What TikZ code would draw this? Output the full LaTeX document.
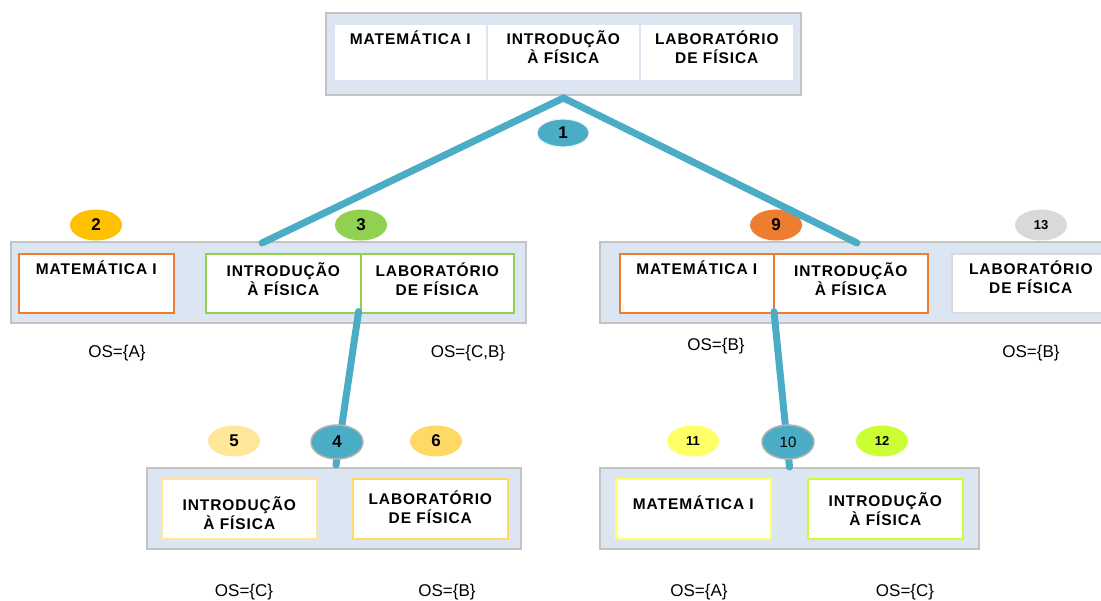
\documentclass[tikz,border=0pt]{standalone}
\usepackage{fontspec}
\setmainfont{Liberation Sans}
\newfontfamily\spacedfont[LetterSpace=6]{Liberation Sans}
\usetikzlibrary{shapes.geometric}
\definecolor{panelfill}{HTML}{DCE6F2}
\definecolor{panelline}{HTML}{C3C3C3}
\definecolor{conn}{HTML}{4BACC6}
\definecolor{corange}{HTML}{ED7D31}
\definecolor{cgreen}{HTML}{92D050}
\definecolor{cgold}{HTML}{FFC000}
\definecolor{cpale}{HTML}{FFE699}
\definecolor{cyel}{HTML}{FFD966}
\definecolor{clemon}{HTML}{FFFF66}
\definecolor{clime}{HTML}{CCFF33}
\definecolor{cgray}{HTML}{D9D9D9}
\tikzset{
  panel/.style={draw=panelline, line width=2pt, fill=panelfill, anchor=north west,
                inner sep=0pt, minimum height=81pt},
  cell/.style={fill=white, line width=1.6pt, anchor=north west, inner sep=0pt,
               align=center, font=\spacedfont\bfseries\fontsize{15.5}{19}\selectfont},
  badge/.style={ellipse, inner sep=0pt, minimum width=52pt, minimum height=31pt,
                font=\bfseries\fontsize{17}{20}\selectfont},
  smallbadge/.style={badge, font=\bfseries\fontsize{13}{15}\selectfont},
  hub/.style={badge, fill=conn, draw=gray!60, line width=1.5pt, minimum height=34pt},
  oslabel/.style={anchor=base, font=\fontsize{17}{20}\selectfont},
  link/.style={draw=conn, line width=7pt, line cap=round, line join=miter}
}
\begin{document}
\begin{tikzpicture}[x=1pt,y=-1pt]
\clip (0,0) rectangle (1101,601);
\fill[white] (0,0) rectangle (1101,601);

% ---------- top panel ----------
\node[panel, minimum width=475pt, minimum height=82pt] (topP) at (325,12) {};
\node[cell, draw=panelfill, minimum width=153pt, text height=20.5pt, text depth=36.5pt] (topMat) at (333,23) {MATEMÁTICA I};
\node[cell, draw=panelfill, minimum width=153pt, text height=39.5pt, text depth=17.5pt] (topInt) at (486,23) {INTRODUÇÃO\\À FÍSICA};
\node[cell, draw=panelfill, minimum width=154pt, text height=39.5pt, text depth=17.5pt] (topLab) at (639,23) {LABORATÓRIO\\DE FÍSICA};

% ---------- middle left panel ----------
\node[panel, minimum width=515pt] (mlP) at (10,241) {};
\node[cell, draw=corange, minimum width=155pt, text height=20.5pt, text depth=38.5pt] (mlMat) at (18,253) {MATEMÁTICA I};
\node[cell, draw=cgreen, minimum width=155pt, text height=41.5pt, text depth=17.5pt] (mlInt) at (205,253) {INTRODUÇÃO\\À FÍSICA};
\node[cell, draw=cgreen, minimum width=153pt, text height=41.5pt, text depth=17.5pt] (mlLab) at (360,253) {LABORATÓRIO\\DE FÍSICA};

% ---------- middle right panel ----------
\node[panel, minimum width=520pt] (mrP) at (599,241) {};
\node[cell, draw=corange, minimum width=154pt, text height=20.5pt, text depth=38.5pt] (mrMat) at (619,253) {MATEMÁTICA I};
\node[cell, draw=corange, minimum width=154pt, text height=41.5pt, text depth=17.5pt] (mrInt) at (773,253) {INTRODUÇÃO\\À FÍSICA};
\node[cell, draw=cgray, minimum width=158pt, text height=39.5pt, text depth=19.5pt] (mrLab) at (951,253) {LABORATÓRIO\\DE FÍSICA};

% ---------- bottom left panel ----------
\node[panel, minimum width=374pt] (blP) at (146,467) {};
\node[cell, draw=cpale, minimum width=155pt, text height=50.5pt, text depth=9.5pt] (blInt) at (161,478) {INTRODUÇÃO\\À FÍSICA};
\node[cell, draw=cyel, minimum width=155pt, text height=44.5pt, text depth=15.5pt] (blLab) at (352,478) {LABORATÓRIO\\DE FÍSICA};

% ---------- bottom right panel ----------
\node[panel, minimum width=379pt] (brP) at (599,467) {};
\node[cell, draw=clemon, minimum width=155pt, text height=30.5pt, text depth=29.5pt] (brMat) at (615,478) {MATEMÁTICA I};
\node[cell, draw=clime, minimum width=155pt, text height=46.5pt, text depth=13.5pt] (brInt) at (807,478) {INTRODUÇÃO\\À FÍSICA};

% ---------- badges under the links ----------
\node[badge, fill=cgold] (b2) at (96,225) {2};
\node[badge, fill=cgreen] (b3) at (361,225) {3};
\node[badge, fill=corange] (b9) at (776,225) {9};
\node[smallbadge, fill=cgray] (b13) at (1041,225) {13};

% ---------- links ----------
\coordinate (apex) at ([yshift=-2pt]topP.south);
\coordinate (endL) at (262,243);
\coordinate (endR) at (857,243);
\draw[link] (endL) -- (apex) -- (endR);
\coordinate (s4) at ([xshift=-3pt,yshift=2pt]mlInt.south east);
\coordinate (e4) at ([xshift=2pt,yshift=2pt]blP.north);
\draw[link] (s4) -- (e4);
\coordinate (s10) at ([xshift=1pt,yshift=2pt]mrInt.south west);
\coordinate (e10) at ([yshift=0pt]brP.north);
\draw[link] (s10) -- (e10);

% ---------- badges over the links ----------
\node[badge, fill=conn, draw=white!85!conn, line width=1.2pt, minimum height=28pt] (b1) at (563,133) {1};
\node[hub] (b4) at (337,442) {4};
\node[hub, font=\fontsize{15}{17}\selectfont] (b10) at (788,442) {10};
\node[badge, fill=cpale] (b5) at (234,441) {5};
\node[badge, fill=cyel] (b6) at (436,441) {6};
\node[smallbadge, fill=clemon] (b11) at (693,441) {11};
\node[smallbadge, fill=clime] (b12) at (882,441) {12};

% ---------- OS labels ----------
\node[oslabel] (os1) at (117,358) {OS=\{A\}};
\node[oslabel] (os2) at (468,358) {OS=\{C,B\}};
\node[oslabel] (os3) at (716,351) {OS=\{B\}};
\node[oslabel] (os4) at (1031,358) {OS=\{B\}};
\node[oslabel] (os5) at (244,596) {OS=\{C\}};
\node[oslabel] (os6) at (447,596) {OS=\{B\}};
\node[oslabel] (os7) at (699,596) {OS=\{A\}};
\node[oslabel] (os8) at (905,596) {OS=\{C\}};
\end{tikzpicture}
\end{document}
